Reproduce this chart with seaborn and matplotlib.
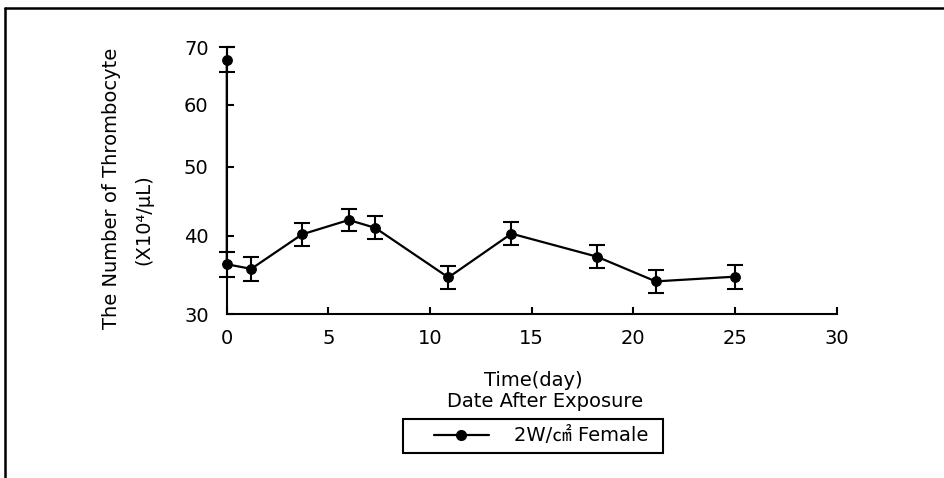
import numpy as np
import matplotlib
matplotlib.use("Agg")
import matplotlib.pyplot as plt
from matplotlib.lines import Line2D
from matplotlib.legend_handler import HandlerLine2D
import seaborn as sns

sns.set_style("ticks")
plt.rcParams['font.family'] = ['DejaVu Sans', 'Noto Sans CJK KR']
plt.rcParams['text.color'] = 'black'

# data (day 0 has a pre value and an after-exposure value)
days = [0, 0, 1.2, 3.7, 6.0, 7.3, 10.9, 14.0, 18.2, 21.1, 25.0]
means = [67.8, 36.2, 35.6, 40.2, 42.2, 41.1, 34.5, 40.3, 37.2, 34.0, 34.6]
errs = [2.2, 1.6, 1.5, 1.55, 1.6, 1.6, 1.5, 1.6, 1.55, 1.5, 1.5]
series_name = "2W/㎠ Female"
x_ticks = [0, 5, 10, 15, 20, 25, 30]
y_ticks = [30, 40, 50, 60, 70]

fig = plt.figure(figsize=(9.45, 4.78), dpi=100)
ax = fig.add_axes([0.240, 0.343, 0.6454, 0.558])

# the scanned axis is compressed toward the top, close to a square-root scale
ax.set_yscale('function', functions=(np.sqrt, np.square))

sns.lineplot(x=days, y=means, sort=False, estimator=None, marker='o',
             markersize=7, color='black', linewidth=1.6,
             markeredgecolor='black', ax=ax, clip_on=False, legend=False)
ax.errorbar(days, means, yerr=errs, fmt='none', ecolor='black', elinewidth=1.5,
            capsize=6, capthick=1.5, clip_on=False)

ax.set_xlim(0, 30)
ax.set_ylim(30, 70)
ax.set_xticks(x_ticks)
ax.set_yticks(y_ticks)
ax.yaxis.set_minor_locator(matplotlib.ticker.NullLocator())
ax.tick_params(direction='in', length=5, width=1.5, labelsize=14, colors='black')
ax.tick_params(axis='y', pad=13)
ax.tick_params(axis='x', pad=11)
sns.despine(ax=ax)
for s in ['left', 'bottom']:
    ax.spines[s].set_linewidth(1.5)
    ax.spines[s].set_color('black')
ax.set_xlabel("")
ax.set_ylabel("")

# axis titles
fig.text(0.1185, 0.605, "The Number of Thrombocyte", rotation=90,
         ha='center', va='center', fontsize=14)
fig.text(0.1524, 0.540, "(X10⁴/μL)", rotation=90,
         ha='center', va='center', fontsize=14)
fig.text(0.564, 0.205, "Time(day)", ha='center', va='center', fontsize=14)
fig.text(0.577, 0.159, "Date After Exposure", ha='center', va='center', fontsize=14)

# legend
handle = Line2D([], [], color='black', marker='o', markersize=7, linewidth=1.6)
leg = fig.legend([handle], [series_name + " "], loc='center',
                 bbox_to_anchor=(0.564, 0.088), fontsize=14, frameon=True,
                 fancybox=False, edgecolor='black', framealpha=1,
                 borderpad=0.4, handlelength=4.0, handletextpad=1.3,
                 handler_map={Line2D: HandlerLine2D(xpad=1.15)})
leg.get_frame().set_linewidth(1.5)
for t in leg.get_texts():
    t.set_color('black')

# scan border
fig.add_artist(Line2D([5 / 945, 5 / 945], [0, 1 - 8 / 478], color='black',
                      linewidth=1.8, transform=fig.transFigure))
fig.add_artist(Line2D([5 / 945, 1], [1 - 8 / 478, 1 - 8 / 478], color='black',
                      linewidth=1.8, transform=fig.transFigure))

fig.savefig("out.png", dpi=100)
